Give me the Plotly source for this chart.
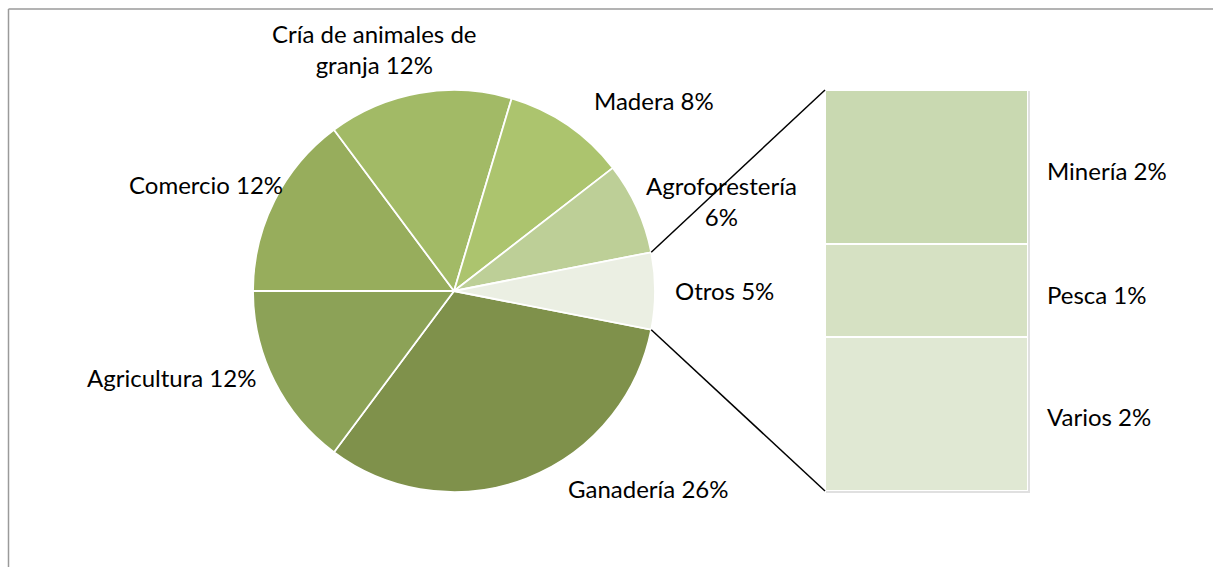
import math
import plotly.graph_objects as go

# ---------------- data ----------------
pie_labels = ["Ganadería", "Agricultura", "Comercio", "Cría de animales de<br>granja",
              "Madera", "Agroforestería<br>", "Otros"]
pie_values = [26, 12, 12, 12, 8, 6, 5]
pie_pct_text = ["26%", "12%", "12%", "12%", "8%", "6%", "5%"]

bar_labels = ["Varios", "Pesca", "Minería"]          # bottom -> top
bar_values = [1.92, 1.16, 1.92]
bar_pct_text = ["2%", "1%", "2%"]

# ---------------- style ----------------
W, H = 1213, 567
pie_colors = ["#7F914B", "#8CA257", "#97AD5C", "#A2BA66", "#ACC46E", "#BDCF97", "#EBEFE3"]
bar_colors = ["#E0E8D3", "#D6E1C3", "#C9D9B1"]
FONT = "Lato, 'Open Sans', sans-serif"
FS = 24

# geometry (pixels, as seen on screen)
cx, cy, R = 454, 291, 201
bx0, bx1, by0, by1 = 825, 1028, 90, 491


def px(x):
    return x / W


def py(y):
    return 1 - y / H


total = sum(pie_values)
half = pie_values[-1] / total * 180.0   # half angle of the "Otros" slice
rotation = 90 + half

fig = go.Figure()

fig.add_trace(go.Pie(
    labels=[l.replace("<br>", " ") for l in pie_labels],
    values=pie_values,
    sort=False,
    direction="clockwise",
    rotation=rotation,
    marker=dict(colors=pie_colors, line=dict(color="white", width=1.8)),
    textinfo="none",
    hoverinfo="label+value",
    showlegend=False,
    domain=dict(x=[px(cx - R), px(cx + R)], y=[py(cy + R), py(cy - R)]),
))

bar_total = sum(bar_values)
for lab, val, col in zip(bar_labels, bar_values, bar_colors):
    fig.add_trace(go.Bar(
        x=[0], y=[val], name=lab, width=1,
        marker=dict(color=col, line=dict(color="white", width=1.5)),
        showlegend=False, xaxis="x", yaxis="y",
    ))

fig.update_layout(
    barmode="stack",
    width=W, height=H,
    margin=dict(l=0, r=0, t=0, b=0),
    paper_bgcolor="white", plot_bgcolor="rgba(0,0,0,0)",
    font=dict(family=FONT, size=FS, color="#000000"),
    xaxis=dict(domain=[px(bx0), px(bx1)], range=[-0.5, 0.5], visible=False, fixedrange=True),
    yaxis=dict(domain=[py(by1), py(by0)], range=[0, bar_total], visible=False, fixedrange=True),
)

shapes = []
# chart frame (top and left edges)
shapes.append(dict(type="line", xref="paper", yref="paper", x0=px(8.5), x1=1, y0=py(9), y1=py(9),
                   line=dict(color="#9A9A9A", width=1.5)))
shapes.append(dict(type="line", xref="paper", yref="paper", x0=px(8.5), x1=px(8.5), y0=py(9), y1=0,
                   line=dict(color="#9A9A9A", width=1.5)))
# bar shadow
shapes.append(dict(type="rect", xref="paper", yref="paper", layer="below",
                   x0=px(bx0 + 1), x1=px(bx1 + 2), y0=py(by1 + 2), y1=py(by0 + 1),
                   line=dict(width=0), fillcolor="rgba(0,0,0,0.12)"))
# connector lines from the Otros slice edges to the bar corners
a_up = math.radians(half)
up_pt = (cx + R * math.cos(a_up), cy - R * math.sin(a_up))
lo_pt = (cx + R * math.cos(a_up), cy + R * math.sin(a_up))
shapes.append(dict(type="line", xref="paper", yref="paper",
                   x0=px(up_pt[0]), y0=py(up_pt[1]), x1=px(bx0), y1=py(by0),
                   line=dict(color="black", width=1.5)))
shapes.append(dict(type="line", xref="paper", yref="paper",
                   x0=px(lo_pt[0]), y0=py(lo_pt[1]), x1=px(bx0), y1=py(by1),
                   line=dict(color="black", width=1.5)))
fig.update_layout(shapes=shapes)

# label positions (pixel centers), Excel-like placement
pie_label_pos = [(648, 488), (171, 377), (206, 185), (374, 49), (654, 101), (721, 201), (724, 290)]
anns = []
for lab, pct, (x, y) in zip(pie_labels, pie_pct_text, pie_label_pos):
    text = lab + pct if lab.endswith("<br>") else lab + " " + pct
    anns.append(dict(x=px(x), y=py(y), xref="paper", yref="paper", text=text,
                     showarrow=False, xanchor="center", yanchor="middle", align="center",
                     font=dict(family=FONT, size=FS, color="black")))

bar_label_y = [416, 294, 170]
for lab, pct, y in zip(bar_labels, bar_pct_text, bar_label_y):
    anns.append(dict(x=px(1045), y=py(y), xref="paper", yref="paper", text=lab + " " + pct,
                     showarrow=False, xanchor="left", yanchor="middle",
                     font=dict(family=FONT, size=FS, color="black")))
fig.update_layout(annotations=anns)

fig.write_html(
    "out.html",
    config={"displayModeBar": False},
    post_script=("document.documentElement.style.overflow='hidden';"
                 "document.body.style.margin='0';document.body.style.overflow='hidden';"),
)
